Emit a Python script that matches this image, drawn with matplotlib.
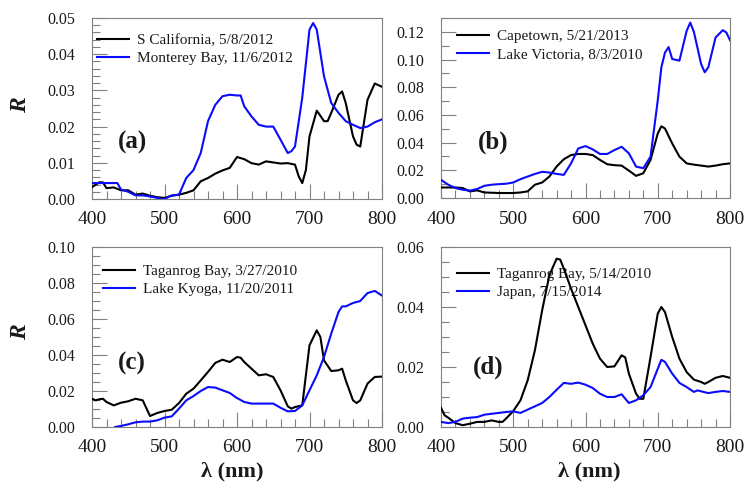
import matplotlib
matplotlib.use('Agg')
import matplotlib.pyplot as plt
from matplotlib.ticker import MultipleLocator

plt.rcParams['font.family'] = ['Liberation Serif', 'DejaVu Serif']

# ---------------- data ----------------
# (a)
a_black_label = "S California, 5/8/2012"
a_black_wl = [400, 410, 415, 420, 430, 440, 450, 460, 470, 480, 490, 500, 510, 520, 530, 540,
              550, 560, 570, 580, 590, 600, 610, 620, 630, 640, 650, 660, 670, 680, 685, 690,
              695, 700, 710, 715, 720, 725, 730, 740, 745, 750, 760, 765, 770, 780, 790, 800]
a_black_R = [0.0033, 0.0046, 0.0046, 0.0030, 0.0032, 0.0024, 0.0024, 0.0012, 0.0015, 0.0009,
             0.0005, 0.0003, 0.0009, 0.0012, 0.0017, 0.0024, 0.0049, 0.0058, 0.0070, 0.0079,
             0.0086, 0.0116, 0.0110, 0.0099, 0.0095, 0.0104, 0.0101, 0.0098, 0.0099, 0.0095,
             0.0063, 0.0044, 0.0080, 0.0173, 0.0244, 0.0230, 0.0215, 0.0215, 0.0238, 0.0288,
             0.0297, 0.0265, 0.0173, 0.0150, 0.0145, 0.0274, 0.0319, 0.0310]
a_blue_label = "Monterey Bay, 11/6/2012"
a_blue_wl = [400, 410, 420, 430, 435, 440, 450, 460, 470, 480, 490, 495, 500, 510, 520, 530,
             540, 550, 560, 570, 580, 590, 600, 605, 610, 620, 630, 640, 650, 660, 670, 675,
             680, 690, 700, 705, 710, 720, 730, 740, 750, 760, 770, 780, 790, 800]
a_blue_R = [0.0044, 0.0044, 0.0044, 0.0044, 0.0044, 0.0026, 0.0020, 0.0010, 0.0010, 0.0007,
            0.0003, 0.0000, 0.0000, 0.0010, 0.0012, 0.0058, 0.0080, 0.0127, 0.0215, 0.0260,
            0.0284, 0.0288, 0.0286, 0.0286, 0.0256, 0.0228, 0.0205, 0.0200, 0.0200, 0.0164,
            0.0127, 0.0132, 0.0145, 0.0280, 0.0468, 0.0486, 0.0468, 0.0339, 0.0265, 0.0238,
            0.0215, 0.0205, 0.0196, 0.0200, 0.0212, 0.0220]

# (b)
b_black_label = "Capetown, 5/21/2013"
b_black_wl = [400, 420, 430, 440, 450, 460, 480, 500, 510, 520, 530, 540, 550, 560, 570, 580,
              590, 600, 610, 620, 630, 640, 650, 660, 670, 680, 690, 700, 705, 710, 720, 730,
              740, 750, 760, 770, 780, 790, 800]
b_black_R = [0.0076, 0.0076, 0.0072, 0.0048, 0.0055, 0.0040, 0.0036, 0.0036, 0.0040, 0.0048,
             0.0096, 0.0112, 0.0155, 0.0227, 0.0280, 0.0310, 0.0318, 0.0318, 0.0310, 0.0275,
             0.0244, 0.0237, 0.0234, 0.0198, 0.0160, 0.0179, 0.0275, 0.0466, 0.0518, 0.0502,
             0.0394, 0.0299, 0.0250, 0.0241, 0.0234, 0.0227, 0.0234, 0.0244, 0.0250]
b_blue_label = "Lake Victoria, 8/3/2010"
b_blue_wl = [400, 410, 420, 430, 440, 450, 460, 470, 480, 490, 500, 510, 520, 530, 540, 550,
             560, 570, 580, 590, 600, 610, 620, 630, 640, 650, 660, 670, 680, 690, 700, 705,
             710, 715, 720, 730, 740, 745, 750, 760, 765, 770, 780, 790, 795, 800]
b_blue_R = [0.0131, 0.0096, 0.0072, 0.0060, 0.0053, 0.0065, 0.0088, 0.0096, 0.0100, 0.0103,
            0.0112, 0.0136, 0.0155, 0.0174, 0.0189, 0.0184, 0.0174, 0.0167, 0.0250, 0.0358,
            0.0375, 0.0351, 0.0318, 0.0318, 0.0346, 0.0370, 0.0323, 0.0227, 0.0215, 0.0299,
            0.0705, 0.0944, 0.1050, 0.1090, 0.1004, 0.0992, 0.1207, 0.1267, 0.1200, 0.0968,
            0.0908, 0.0944, 0.1159, 0.1212, 0.1195, 0.1140]

# (c)
c_black_label = "Taganrog Bay, 3/27/2010"
c_black_wl = [400, 405, 410, 415, 420, 430, 440, 450, 460, 470, 480, 490, 500, 510, 520, 530,
              540, 550, 560, 570, 580, 590, 600, 605, 610, 620, 630, 640, 650, 660, 670, 675,
              680, 690, 700, 710, 715, 720, 730, 740, 745, 750, 760, 765, 770, 780, 790, 800]
c_black_R = [0.0157, 0.0148, 0.0154, 0.0157, 0.0139, 0.0120, 0.0135, 0.0143, 0.0157, 0.0148,
             0.0061, 0.0078, 0.0089, 0.0096, 0.0133, 0.0185, 0.0213, 0.0259, 0.0306, 0.0356,
             0.0374, 0.0361, 0.0389, 0.0385, 0.0361, 0.0324, 0.0287, 0.0293, 0.0278, 0.0204,
             0.0115, 0.0102, 0.0111, 0.0120, 0.0454, 0.0537, 0.0500, 0.0370, 0.0311, 0.0315,
             0.0324, 0.0259, 0.0148, 0.0133, 0.0148, 0.0241, 0.0278, 0.0280]
c_blue_label = "Lake Kyoga, 11/20/2011"
c_blue_wl = [432, 440, 450, 460, 470, 480, 490, 500, 510, 520, 530, 540, 550, 560, 570, 580,
             590, 600, 610, 620, 640, 650, 660, 670, 680, 690, 700, 710, 720, 730, 740, 745,
             750, 760, 770, 780, 790, 800]
c_blue_R = [0.0000, 0.0006, 0.0015, 0.0026, 0.0030, 0.0030, 0.0037, 0.0052, 0.0059, 0.0102,
            0.0148, 0.0172, 0.0200, 0.0222, 0.0219, 0.0204, 0.0189, 0.0161, 0.0139, 0.0130,
            0.0130, 0.0130, 0.0107, 0.0087, 0.0089, 0.0120, 0.0204, 0.0287, 0.0389, 0.0519,
            0.0639, 0.0670, 0.0670, 0.0689, 0.0700, 0.0744, 0.0756, 0.0730]

# (d)
d_black_label = "Taganrog Bay, 5/14/2010"
d_black_wl = [400, 405, 410, 420, 430, 440, 450, 460, 470, 480, 485, 490, 500, 510, 520, 530,
              540, 550, 560, 565, 570, 580, 590, 600, 610, 620, 630, 640, 650, 655, 660, 670,
              675, 680, 690, 700, 705, 710, 720, 730, 740, 750, 760, 765, 770, 780, 790, 800]
d_black_R = [0.0064, 0.0039, 0.0031, 0.0013, 0.0006, 0.0011, 0.0017, 0.0017, 0.0022, 0.0017,
             0.0017, 0.0028, 0.0053, 0.0089, 0.0156, 0.0256, 0.0389, 0.0506, 0.0561, 0.0558,
             0.0528, 0.0461, 0.0400, 0.0339, 0.0278, 0.0228, 0.0200, 0.0202, 0.0239, 0.0232,
             0.0178, 0.0111, 0.0094, 0.0094, 0.0233, 0.0378, 0.0400, 0.0383, 0.0300, 0.0228,
             0.0183, 0.0158, 0.0150, 0.0144, 0.0150, 0.0164, 0.0170, 0.0164]
d_blue_label = "Japan, 7/15/2014"
d_blue_wl = [400, 410, 420, 430, 440, 450, 460, 470, 480, 490, 500, 510, 520, 530, 540, 550,
             560, 570, 580, 590, 600, 610, 620, 630, 640, 650, 660, 670, 680, 690, 700, 705,
             710, 720, 730, 740, 750, 755, 770, 780, 790, 800]
d_blue_R = [0.0017, 0.0013, 0.0017, 0.0028, 0.0031, 0.0033, 0.0041, 0.0044, 0.0047, 0.0050,
            0.0052, 0.0047, 0.0058, 0.0069, 0.0080, 0.0100, 0.0124, 0.0147, 0.0144, 0.0148,
            0.0141, 0.0130, 0.0111, 0.0100, 0.0100, 0.0109, 0.0080, 0.0089, 0.0106, 0.0133,
            0.0194, 0.0224, 0.0217, 0.0178, 0.0147, 0.0133, 0.0117, 0.0122, 0.0113, 0.0117,
            0.0120, 0.0117]

panel_letters = ["(a)", "(b)", "(c)", "(d)"]
y_limits = [0.05, 0.13, 0.10, 0.06]
y_major = [0.01, 0.02, 0.02, 0.02]
y_minor = [0.002, 0.01, 0.005, 0.005]

# ---------------- figure ----------------
W, H = 744, 483
fig = plt.figure(figsize=(W / 100, H / 100), dpi=100)

def frac_box(l, t, r, b):
    return [l / W, 1 - b / H, (r - l) / W, (b - t) / H]

boxes = [frac_box(92, 18, 382, 199), frac_box(441, 18, 730, 198),
         frac_box(92, 247, 382, 427), frac_box(441, 247, 730, 427)]

series = [
    (a_black_wl, a_black_R, a_black_label, a_blue_wl, a_blue_R, a_blue_label),
    (b_black_wl, b_black_R, b_black_label, b_blue_wl, b_blue_R, b_blue_label),
    (c_black_wl, c_black_R, c_black_label, c_blue_wl, c_blue_R, c_blue_label),
    (d_black_wl, d_black_R, d_black_label, d_blue_wl, d_blue_R, d_blue_label),
]
legend_anchor = [(0.017, 0.915), (0.055, 0.935), (0.038, 0.902), (0.055, 0.885)]
letter_pos = [(0.14, 0.31), (0.18, 0.31), (0.138, 0.355), (0.163, 0.33)]

gray = '#808080'
blue = '#0a0aff'
txt = '#1a1a1a'

for i, (box, s) in enumerate(zip(boxes, series)):
    ax = fig.add_axes(box)
    bw, br, bl, uw, ur, ul = s
    ax.plot(bw, br, color='black', lw=1.5, label=bl, zorder=3, solid_joinstyle='round')
    ax.plot(uw, ur, color=blue, lw=1.5, label=ul, zorder=3, solid_joinstyle='round')
    ax.set_xlim(400, 800)
    ax.set_ylim(0, y_limits[i])
    ax.xaxis.set_major_locator(MultipleLocator(100))
    ax.xaxis.set_minor_locator(MultipleLocator(20))
    ax.yaxis.set_major_locator(MultipleLocator(y_major[i]))
    ax.yaxis.set_minor_locator(MultipleLocator(y_minor[i]))
    ax.yaxis.set_major_formatter(plt.FuncFormatter(lambda v, p: f"{v:.2f}"))
    ax.tick_params(which='both', direction='in', color=gray, width=0.8,
                   top=False, right=False, labelcolor=txt)
    ax.tick_params(which='major', length=11)
    ax.tick_params(which='minor', length=5.5)
    ax.tick_params(axis='x', which='major', pad=9, labelsize=14)
    ax.tick_params(axis='y', which='major', pad=12, labelsize=11.5)
    for sp in ax.spines.values():
        sp.set_color(gray)
        sp.set_linewidth(0.8)
    leg = ax.legend(loc='upper left', bbox_to_anchor=legend_anchor[i], frameon=False,
                    fontsize=11, borderpad=0, borderaxespad=0, handlelength=2.1,
                    handletextpad=0.5, labelspacing=0.28)
    leg.set_zorder(1)
    for t in leg.get_texts():
        t.set_color(txt)
    ax.text(letter_pos[i][0], letter_pos[i][1], panel_letters[i], transform=ax.transAxes,
            ha='center', va='center', fontsize=18, fontweight='bold', color=txt)

fig.text(21 / W, 1 - 105 / H, 'R', rotation=90, ha='center', va='center',
         fontsize=17, fontweight='bold', fontstyle='italic', color=txt)
fig.text(21 / W, 1 - 332 / H, 'R', rotation=90, ha='center', va='center',
         fontsize=17, fontweight='bold', fontstyle='italic', color=txt)
fig.text(232 / W, 1 - 471 / H, 'λ (nm)', ha='center', va='center',
         fontsize=16, fontweight='bold', color=txt)
fig.text(589 / W, 1 - 471 / H, 'λ (nm)', ha='center', va='center',
         fontsize=16, fontweight='bold', color=txt)

fig.savefig('out.png', dpi=100)
